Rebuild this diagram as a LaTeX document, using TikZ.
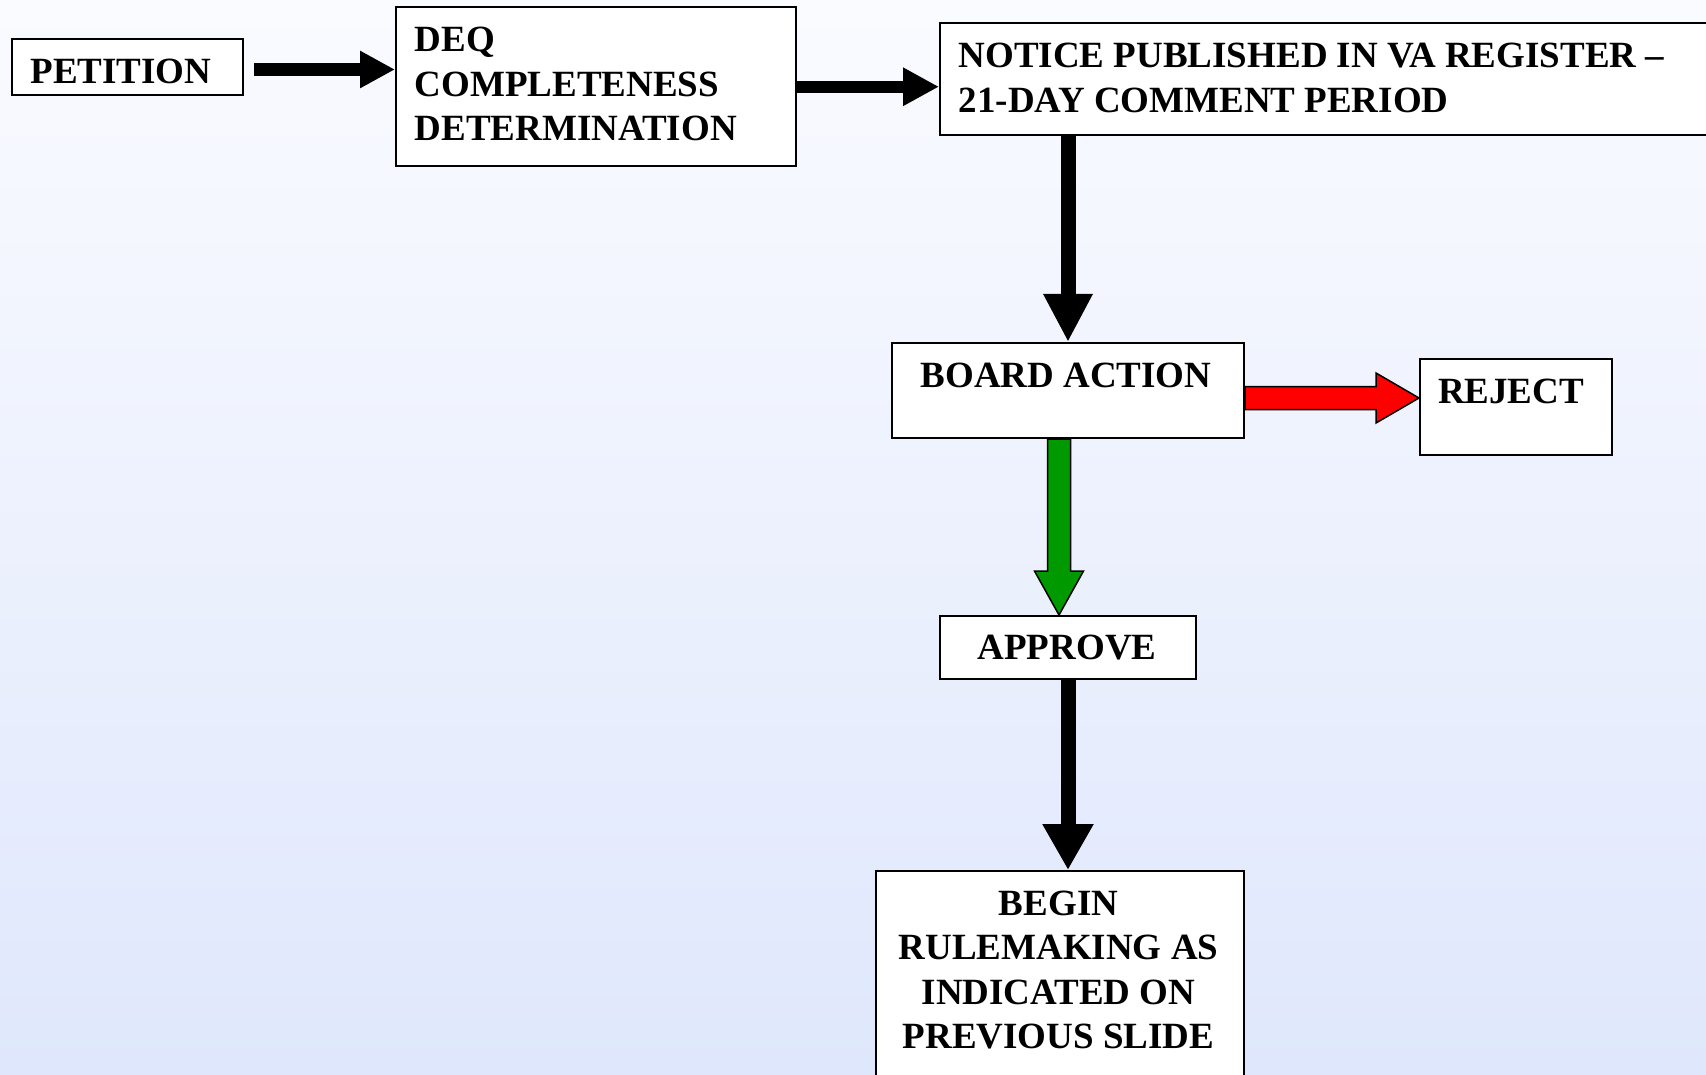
\documentclass[tikz,border=0pt]{standalone}
\usepackage{fontspec}
\setmainfont{Liberation Serif}
\usetikzlibrary{arrows.meta,calc}
\definecolor{bgtop}{RGB}{250,251,255}
\definecolor{bgbot}{RGB}{223,231,252}
\definecolor{okgreen}{RGB}{0,153,0}
\begin{document}
\begin{tikzpicture}[x=1pt,y=-1pt,
  box/.style={draw=black, line width=2pt, fill=white, rectangle, inner sep=0pt, anchor=north west},
  lbl/.style={font=\fontsize{37}{44.5}\selectfont\bfseries, inner sep=0pt, text=black},
  blkarrow/.style={draw=black, line cap=butt},
  blockarrow/.style={draw=black, line width=1.5pt, line join=miter}]
\useasboundingbox (0,0) rectangle (1706,1075);
\shade[top color=bgtop, bottom color=bgbot] (0,0) rectangle (1706,1075);
\clip (0,0) rectangle (1706,1075);

% boxes
\node[box, minimum width=231pt, minimum height=56pt] (pet) at (11,38) {};
\node[box, minimum width=400pt, minimum height=158.5pt] (deq) at (395,6.5) {};
\node[box, minimum width=800pt, minimum height=112pt] (notice) at (939,22) {};
\node[box, minimum width=352pt, minimum height=95pt] (board) at (891,342) {};
\node[box, minimum width=192pt, minimum height=96pt] (rej) at (1419,358) {};
\node[box, minimum width=256pt, minimum height=63pt] (app) at (939,615) {};
\node[box, minimum width=368pt, minimum height=260pt] (begin) at (875,870) {};

% texts
\node[lbl, anchor=north] (petT) at (121,58.5) {PETITION};
\node[lbl, anchor=north west, align=left] (deqT) at (414.5,27) {DEQ\\COMPLETENESS\\DETERMINATION};
\node[lbl, anchor=north west, align=left] (noticeT) at (958.5,43) {NOTICE PUBLISHED IN VA REGISTER –\\21-DAY COMMENT PERIOD};
\node[lbl, anchor=north] (boardT) at (1066,362.5) {BOARD ACTION};
\node[lbl, anchor=north] (rejT) at (1511,379) {REJECT};
\node[lbl, anchor=north] (appT) at (1067,634.5) {APPROVE};
\node[lbl, anchor=north, align=center] (beginT) at (1058.5,890.5) {BEGIN\\RULEMAKING AS\\INDICATED ON\\PREVIOUS SLIDE};

% black arrows
\coordinate (a1y) at (0,69.5);
\draw[blkarrow, line width=13pt, -{Triangle[length=35pt,width=35pt]}] ($(pet.east |- a1y)+(10,0)$) -- (deq.west |- a1y);
\draw[blkarrow, line width=12pt, -{Triangle[length=36pt,width=36pt]}] (deq.east) -- (notice.west |- deq.east);
\draw[blkarrow, line width=15pt, -{Triangle[length=48pt,width=46pt]}] (notice.south -| board.north) -- (board.north);
\draw[blkarrow, line width=15pt, -{Triangle[length=46pt,width=48pt]}] (app.south) -- (begin.north -| app.south);

% red arrow
\coordinate (ry) at (0,398);
\filldraw[blockarrow, fill=red]
  ($(board.east |- ry)+(0,-11.5)$) -- ($(rej.west |- ry)+(-43,-11.5)$) -- ($(rej.west |- ry)+(-43,-25)$)
  -- (rej.west |- ry) -- ($(rej.west |- ry)+(-43,25)$) -- ($(rej.west |- ry)+(-43,11.5)$)
  -- ($(board.east |- ry)+(0,11.5)$) -- cycle;

% green arrow
\coordinate (gx) at (1059,0);
\filldraw[blockarrow, fill=okgreen]
  ($(board.south -| gx)+(-11.5,0)$) -- ($(app.north -| gx)+(-11.5,-44)$) -- ($(app.north -| gx)+(-24.5,-44)$)
  -- (app.north -| gx) -- ($(app.north -| gx)+(24.5,-44)$) -- ($(app.north -| gx)+(11.5,-44)$)
  -- ($(board.south -| gx)+(11.5,0)$) -- cycle;
\end{tikzpicture}
\end{document}
